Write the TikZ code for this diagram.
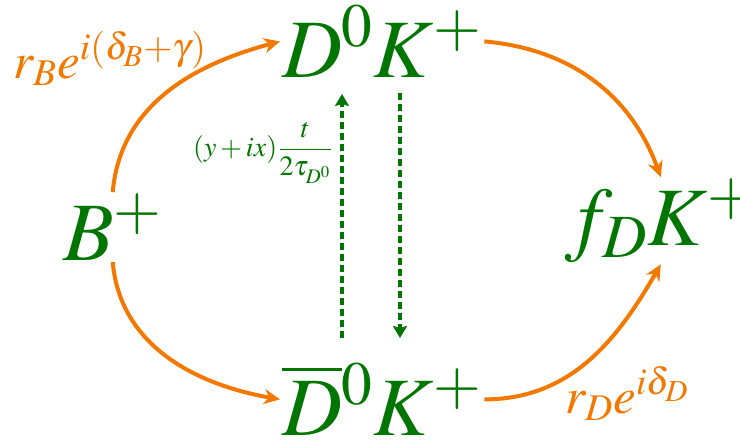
\documentclass[tikz,border=0pt]{standalone}
\usepackage{mathptmx}
\usetikzlibrary{arrows.meta}
\definecolor{decgreen}{RGB}{0,118,0}
\definecolor{amporange}{RGB}{242,120,0}

\begin{document}
\begin{tikzpicture}[x=0.5pt,y=-0.5pt,
  state/.style={inner sep=0pt,outer sep=1pt,text=decgreen,font=\fontsize{41.5}{44}\selectfont},
  amp/.style={draw=amporange,line width=2pt,-{Stealth[length=8pt,width=7.5pt,inset=2.5pt]}},
  amplabel/.style={inner sep=0pt,text=amporange,font=\fontsize{25.5}{30}\selectfont},
  mix/.style={draw=decgreen,line width=1.7pt,dash pattern=on 3.5pt off 2pt,-{Stealth[length=6pt,width=7pt,inset=1pt]}},
  mixlabel/.style={inner sep=0pt,text=decgreen,font=\fontsize{14}{16}\selectfont}]
\useasboundingbox (0,0) rectangle (740,441);
\node[state,anchor=base west] (B) at (61,260) {$B^+$};
\node[state,anchor=base west] (D0) at (280,77) {$D^0K^+$};
\node[state,anchor=base west] (D0bar) at (280,435) {$\overline{D}{}^0K^+$};
\node[state,anchor=base west] (fD) at (563,245) {$f_DK^+$};
\node[amplabel,anchor=base west] (rB) at (13,78) {$r_Be^{i(\delta_B+\gamma)}$};
\node[amplabel,anchor=base west] (rD) at (565,413) {$r_De^{i\delta_D}$};
\node[mixlabel,anchor=east] (mixlbl) at (334,153) {$(y+ix)\displaystyle\frac{t}{2\tau_{D^0}}$};
\coordinate (upS) at (342,338);
\coordinate (upE) at (342,94);
\coordinate (dnS) at (400,93);
\coordinate (dnE) at (400,338);
\draw[amp] (B.north) to[out=85,in=195] (D0.west);
\draw[amp] (D0.east) to[out=-5,in=110] (fD.north);
\draw[amp] (B.south) to[out=-85,in=170] (D0bar.west);
\draw[amp] (D0bar.east) to[out=0,in=-120] (fD.south);
\draw[mix] (upS) -- (upE);
\draw[mix] (dnS) -- (dnE);
\end{tikzpicture}
\end{document}
